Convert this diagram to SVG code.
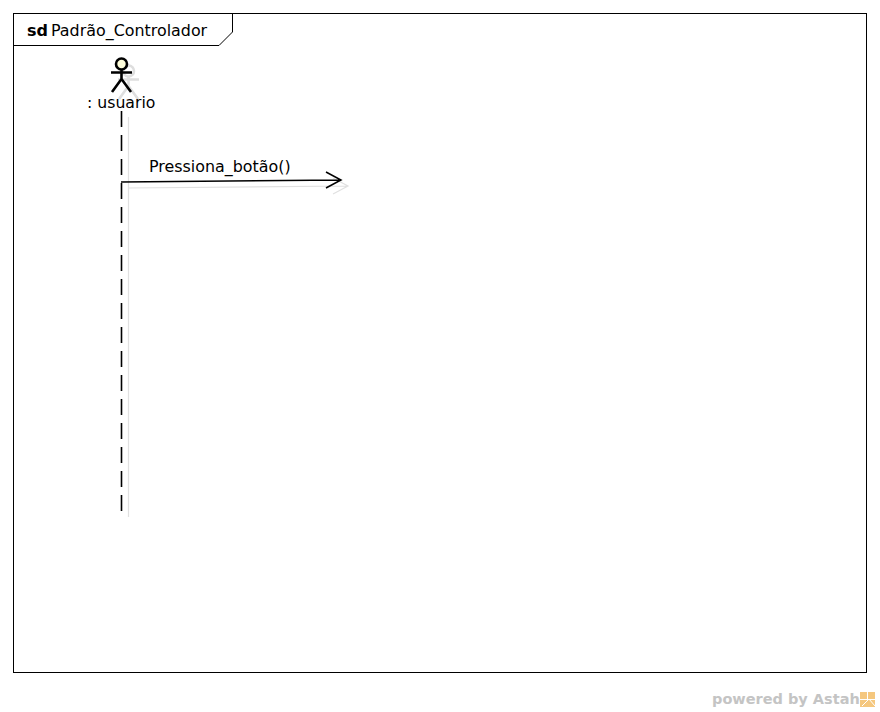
<svg xmlns="http://www.w3.org/2000/svg" width="880" height="712" viewBox="0 0 880 712">
<style>
text{font-family:"DejaVu Sans",sans-serif;font-size:15.900px;fill:#000}
.l{fill:none;stroke:#000;stroke-width:1}
.s{fill:none;stroke:#e0e0e0;stroke-width:1.200}
.a{fill:none;stroke:#000;stroke-width:2.600}
.as{fill:none;stroke:#dedede;stroke-width:2.600}
</style>
<rect width="880" height="712" fill="#fff"/>
<g id="frame">
<rect x="13.500" y="13.500" width="853" height="659" class="l"/>
<path d="M13.500 45.500H219L232.500 32V13.500" class="l"/>
<text x="27" y="36" style="font-weight:bold;font-size:16px">sd</text>
<text x="51" y="36">Padrão_Controlador</text>
</g>
<g id="actor-usuario">
<g class="as">
<circle cx="128.500" cy="71" r="5.500"/>
<path d="M128.500 77V86M118 79.500H139M128.500 86L119 99M128.500 86L138 99"/>
</g>
<circle cx="121.500" cy="64" r="5.500" fill="#ffffdc" stroke="#000" stroke-width="2.600"/>
<path class="a" d="M121.500 70V79M111 72.500H132M121.500 79L112 92M121.500 79L131 92"/>
<text x="87" y="108" style="font-size:15.700px">: usuario</text>
</g>
<g id="connectors">
<path class="s" d="M128.500 117V517"/>
<path class="l" style="stroke-width:1.600" d="M121.500 111V511" stroke-dasharray="16 8"/>
<path class="s" d="M128 188L348 186M333 178L348 186L333 194"/>
<path class="l" style="stroke-width:1.500" d="M121 182L341 180M326 172L341 180L326 188"/>
<text x="149" y="172">Pressiona_botão()</text>
</g>
<g id="watermark">
<text x="712" y="704" style="font-weight:bold;font-size:14.500px;fill:#c4c4c4">powered by Astah</text>
<rect x="860" y="692" width="15" height="15" fill="#f5c77e"/>
<path d="M860 699.500H875M867.500 692V699.500M862 706L869 699L875 706" fill="none" stroke="#fff" stroke-width="1"/>
</g>
</svg>
